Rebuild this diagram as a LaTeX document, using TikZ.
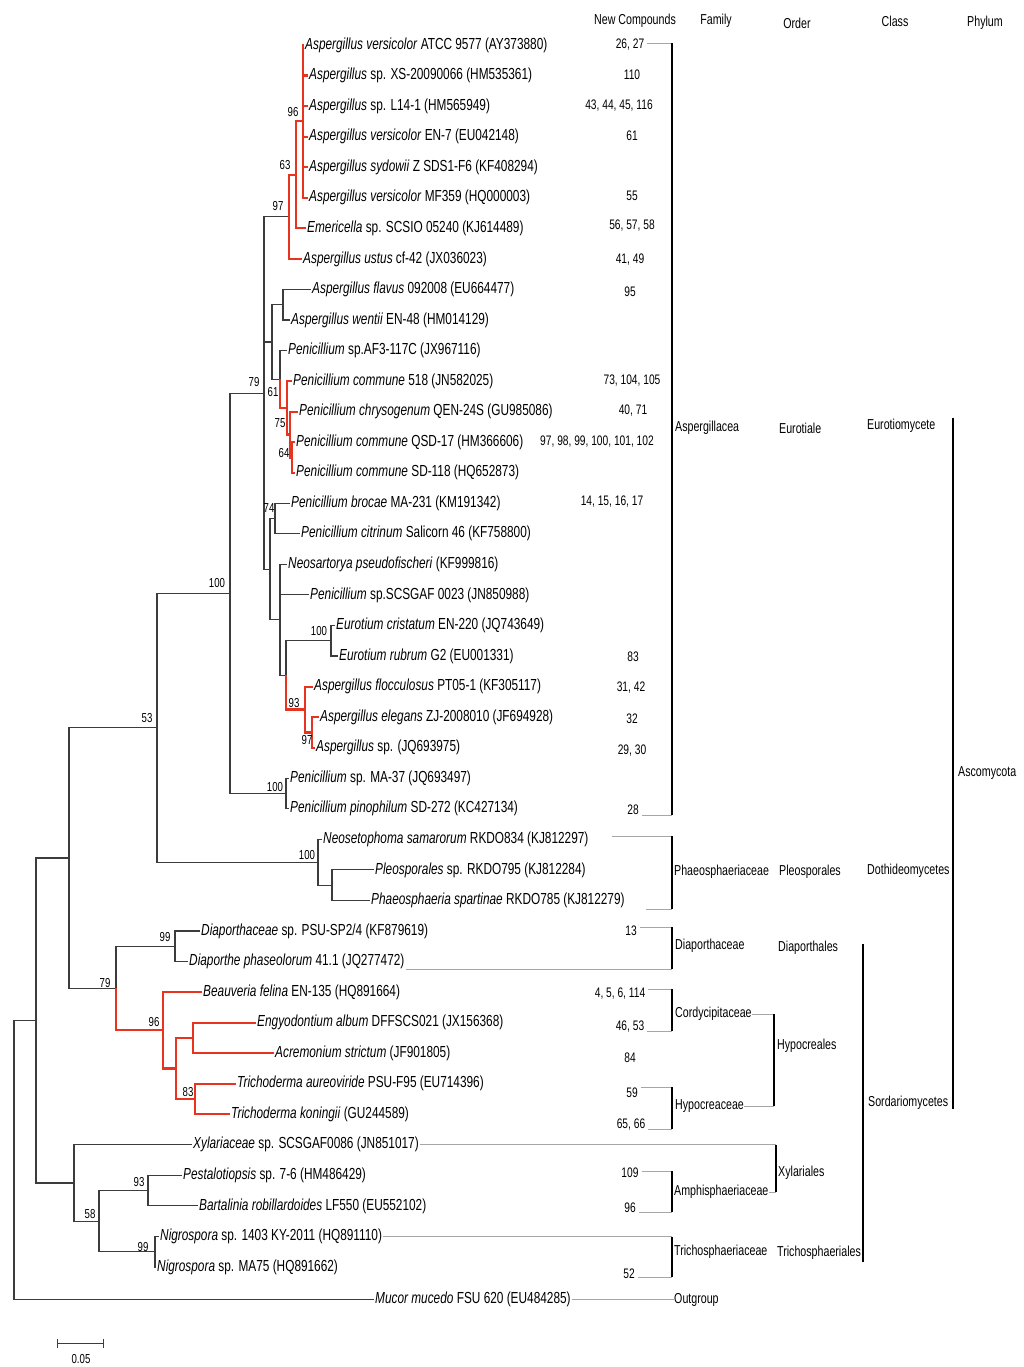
\documentclass[tikz,border=0pt]{standalone}
\usepackage{fontspec}
\setmainfont{Liberation Sans}[FakeStretch=0.74]
\usetikzlibrary{arrows.meta}
\definecolor{treered}{RGB}{232,52,30}
\definecolor{treegray}{RGB}{60,60,60}
\tikzset{%
  branch/.style    = {draw=treegray, line width=1.1pt},
  redbranch/.style = {draw=treered, line width=2.2pt},
  taxon/.style     = {anchor=west, inner sep=1pt, font=\fontsize{16}{18}\selectfont},
  bs/.style        = {inner sep=0pt, font=\fontsize{13}{15}\selectfont},
  cmpd/.style      = {inner sep=3pt, font=\fontsize{13.8}{16}\selectfont},
  ranklabel/.style = {anchor=west, inner sep=0pt, font=\fontsize{14.4}{16}\selectfont},
  colhead/.style   = {inner sep=0pt, font=\fontsize{14.4}{16}\selectfont},
  rankbar/.style   = {draw=black, line width=2.4pt},
  leader/.style    = {draw=gray!70, line width=0.9pt}
}

\begin{document}
\begin{tikzpicture}[x=1pt, y=-1pt]
\useasboundingbox[fill=white] (0,0) rectangle (1024,1367);

% column heads
\node[colhead] (hcmp) at (635,21) {New Compounds};
\node[colhead] (hfam) at (716,21) {Family};
\node[colhead] (hord) at (797,23) {Order};
\node[colhead] (hcls) at (895,21) {Class};
\node[colhead] (hphy) at (985,23) {Phylum};

% taxa
\node[taxon] (t1)  at (304,45.0)   {\textit{Aspergillus versicolor} ATCC 9577 (AY373880)};
\node[taxon] (t2)  at (308,75.6)   {\textit{Aspergillus} sp. XS-20090066 (HM535361)};
\node[taxon] (t3)  at (308,106.1)  {\textit{Aspergillus} sp. L14-1 (HM565949)};
\node[taxon] (t4)  at (308,136.7)  {\textit{Aspergillus versicolor} EN-7 (EU042148)};
\node[taxon] (t5)  at (308,167.2)  {\textit{Aspergillus sydowii} Z SDS1-F6 (KF408294)};
\node[taxon] (t6)  at (308,197.8)  {\textit{Aspergillus versicolor} MF359 (HQ000003)};
\node[taxon] (t7)  at (306,228.3)  {\textit{Emericella} sp. SCSIO 05240 (KJ614489)};
\node[taxon] (t8)  at (302,258.9)  {\textit{Aspergillus ustus} cf-42 (JX036023)};
\node[taxon] (t9)  at (311,289.4)  {\textit{Aspergillus flavus} 092008 (EU664477)};
\node[taxon] (t10) at (290,320.0)  {\textit{Aspergillus wentii} EN-48 (HM014129)};
\node[taxon] (t11) at (287,350.5)  {\textit{Penicillium} sp.AF3-117C (JX967116)};
\node[taxon] (t12) at (292,381.1)  {\textit{Penicillium commune} 518 (JN582025)};
\node[taxon] (t13) at (298,411.6)  {\textit{Penicillium chrysogenum} QEN-24S (GU985086)};
\node[taxon] (t14) at (295,442.2)  {\textit{Penicillium commune} QSD-17 (HM366606)};
\node[taxon] (t15) at (295,472.7)  {\textit{Penicillium commune} SD-118 (HQ652873)};
\node[taxon] (t16) at (290,503.3)  {\textit{Penicillium brocae} MA-231 (KM191342)};
\node[taxon] (t17) at (300,533.8)  {\textit{Penicillium citrinum} Salicorn 46 (KF758800)};
\node[taxon] (t18) at (287,564.4)  {\textit{Neosartorya pseudofischeri} (KF999816)};
\node[taxon] (t19) at (309,594.9)  {\textit{Penicillium} sp.SCSGAF 0023 (JN850988)};
\node[taxon] (t20) at (335,625.5)  {\textit{Eurotium cristatum} EN-220 (JQ743649)};
\node[taxon] (t21) at (338,656.0)  {\textit{Eurotium rubrum} G2 (EU001331)};
\node[taxon] (t22) at (313,686.6)  {\textit{Aspergillus flocculosus} PT05-1 (KF305117)};
\node[taxon] (t23) at (319,717.1)  {\textit{Aspergillus elegans} ZJ-2008010 (JF694928)};
\node[taxon] (t24) at (315,747.7)  {\textit{Aspergillus} sp. (JQ693975)};
\node[taxon] (t25) at (289,778.2)  {\textit{Penicillium} sp. MA-37 (JQ693497)};
\node[taxon] (t26) at (289,808.8)  {\textit{Penicillium pinophilum} SD-272 (KC427134)};
\node[taxon] (t27) at (322,839.3)  {\textit{Neosetophoma samarorum} RKDO834 (KJ812297)};
\node[taxon] (t28) at (374,869.9)  {\textit{Pleosporales} sp. RKDO795 (KJ812284)};
\node[taxon] (t29) at (370,900.4)  {\textit{Phaeosphaeria spartinae} RKDO785 (KJ812279)};
\node[taxon] (t30) at (200,931.0)  {\textit{Diaporthaceae} sp. PSU-SP2/4 (KF879619)};
\node[taxon] (t31) at (188,961.5)  {\textit{Diaporthe phaseolorum} 41.1 (JQ277472)};
\node[taxon] (t32) at (202,992.1)  {\textit{Beauveria felina} EN-135 (HQ891664)};
\node[taxon] (t33) at (256,1022.6) {\textit{Engyodontium album} DFFSCS021 (JX156368)};
\node[taxon] (t34) at (274,1053.2) {\textit{Acremonium strictum} (JF901805)};
\node[taxon] (t35) at (236,1083.7) {\textit{Trichoderma aureoviride} PSU-F95 (EU714396)};
\node[taxon] (t36) at (230,1114.3) {\textit{Trichoderma koningii} (GU244589)};
\node[taxon] (t37) at (192,1144.8) {\textit{Xylariaceae} sp. SCSGAF0086 (JN851017)};
\node[taxon] (t38) at (182,1175.4) {\textit{Pestalotiopsis} sp. 7-6 (HM486429)};
\node[taxon] (t39) at (198,1205.9) {\textit{Bartalinia robillardoides} LF550 (EU552102)};
\node[taxon] (t40) at (159,1236.5) {\textit{Nigrospora} sp. 1403 KY-2011 (HQ891110)};
\node[taxon] (t41) at (156,1267.0) {\textit{Nigrospora} sp. MA75 (HQ891662)};
\node[taxon] (t42) at (374,1299.5) {\textit{Mucor mucedo} FSU 620 (EU484285)};

% inner nodes
\coordinate (n96)  at (303,121.4);
\coordinate (n63)  at (296,174.9);
\coordinate (n97)  at (289,216.9);
\coordinate (nfw)  at (283,304.7);
\coordinate (n64)  at (292,457.5);
\coordinate (nchr) at (290,434.5);
\coordinate (n75)  at (287,407.8);
\coordinate (n61)  at (280,379.2);
\coordinate (nj)   at (272,342);
\coordinate (n74)  at (275,518.6);
\coordinate (neu)  at (331,640.8);
\coordinate (n97b) at (312,732.4);
\coordinate (n93)  at (305,709.5);
\coordinate (ni)   at (286,675.2);
\coordinate (nh)   at (280,619.8);
\coordinate (ng)   at (270,569.2);
\coordinate (n79)  at (264,393.1);
\coordinate (npen) at (286,793.5);
\coordinate (n100) at (230,593.3);
\coordinate (nple) at (332,885.2);
\coordinate (nph)  at (318,862.3);
\coordinate (n53)  at (157,727.8);
\coordinate (ndia) at (175,946.3);
\coordinate (neng) at (193,1037.9);
\coordinate (n83)  at (195,1099);
\coordinate (nhyp) at (176,1068.5);
\coordinate (n96s) at (163,1030.3);
\coordinate (n79s) at (116,988.3);
\coordinate (nb)   at (69,858);
\coordinate (npes) at (148,1190.7);
\coordinate (nnig) at (155,1251.8);
\coordinate (n58)  at (99,1221.2);
\coordinate (nc)   at (74,1183);
\coordinate (na)   at (36,1020.5);
\coordinate (root) at (14,1160);

% black branches
\draw[branch] (root) |- (na) (root) |- (t42.west);
\draw[branch] (na) |- (nb) (na) |- (nc);
\draw[branch] (nb) |- (n53) (nb) |- (n79s);
\draw[branch] (n53) |- (n100) (n53) |- (nph);
\draw[branch] (n100) |- (n79) (n100) |- (npen);
\draw[branch] (n79) |- (n97) (n79) |- (nj) (n79) |- (ng);
\draw[branch] (nj) |- (nfw) (nj) |- (n61);
\draw[branch] (nfw) |- (t9.west) (nfw) |- (t10.west);
\draw[branch] (n61) |- (t11.west);
\draw[branch] (ng) |- (n74) (ng) |- (nh);
\draw[branch] (n74) |- (t16.west) (n74) |- (t17.west);
\draw[branch] (nh) |- (t18.west) (nh) |- (t19.west) (nh) |- (ni);
\draw[branch] (ni) |- (neu);
\draw[branch] (neu) |- (t20.west) (neu) |- (t21.west);
\draw[branch] (npen) |- (t25.west) (npen) |- (t26.west);
\draw[branch] (nph) |- (t27.west) (nph) |- (nple);
\draw[branch] (nple) |- (t28.west) (nple) |- (t29.west);
\draw[branch] (n79s) |- (ndia);
\draw[branch] (ndia) |- (t30.west) (ndia) |- (t31.west);
\draw[branch] (nc) |- (t37.west) (nc) |- (n58);
\draw[branch] (n58) |- (npes) (n58) |- (nnig);
\draw[branch] (npes) |- (t38.west) (npes) |- (t39.west);
\draw[branch] (nnig) |- (t40.west) (nnig) |- (t41.west);

% red branches
\draw[redbranch] (n97) |- (n63) (n97) |- (t8.west);
\draw[redbranch] (n63) |- (n96) (n63) |- (t7.west);
\draw[redbranch] (n96) |- (t1.west) (n96) |- (t2.west) (n96) |- (t3.west)
                 (n96) |- (t4.west) (n96) |- (t5.west) (n96) |- (t6.west);
\draw[redbranch] (n61) |- (n75);
\draw[redbranch] (n75) |- (t12.west) (n75) |- (nchr);
\draw[redbranch] (nchr) |- (t13.west) (nchr) |- (n64);
\draw[redbranch] (n64) |- (t14.west) (n64) |- (t15.west);
\draw[redbranch] (ni) |- (n93);
\draw[redbranch] (n93) |- (t22.west) (n93) |- (n97b);
\draw[redbranch] (n97b) |- (t23.west) (n97b) |- (t24.west);
\draw[redbranch] (n79s) |- (n96s);
\draw[redbranch] (n96s) |- (t32.west) (n96s) |- (nhyp);
\draw[redbranch] (nhyp) |- (neng) (nhyp) |- (n83);
\draw[redbranch] (neng) |- (t33.west) (neng) |- (t34.west);
\draw[redbranch] (n83) |- (t35.west) (n83) |- (t36.west);

% bootstrap values
\node[bs] (b96)  at (293,112)  {96};
\node[bs] (b63)  at (285,165)  {63};
\node[bs] (b97)  at (278,206)  {97};
\node[bs] (b79)  at (254,382)  {79};
\node[bs] (b61)  at (273,392)  {61};
\node[bs] (b75)  at (280,423)  {75};
\node[bs] (b64)  at (284,453)  {64};
\node[bs] (b74)  at (269,508)  {74};
\node[bs] (b100) at (217,583)  {100};
\node[bs] (beu)  at (319,631)  {100};
\node[bs] (b93)  at (294,703)  {93};
\node[bs] (b97b) at (307,740)  {97};
\node[bs] (bpen) at (275,787)  {100};
\node[bs] (b53)  at (147,718)  {53};
\node[bs] (bph)  at (307,855)  {100};
\node[bs] (bdia) at (165,937)  {99};
\node[bs] (b79s) at (105,983)  {79};
\node[bs] (b96s) at (154,1022) {96};
\node[bs] (b83)  at (188,1092) {83};
\node[bs] (bpes) at (139,1182) {93};
\node[bs] (b58)  at (90,1214)  {58};
\node[bs] (bnig) at (143,1247) {99};

% new compounds
\node[cmpd] (c1)  at (630,45)   {26, 27};
\node[cmpd] (c2)  at (632,75)   {110};
\node[cmpd] (c3)  at (619,106)  {43, 44, 45, 116};
\node[cmpd] (c4)  at (632,136)  {61};
\node[cmpd] (c6)  at (632,196)  {55};
\node[cmpd] (c7)  at (632,226)  {56, 57, 58};
\node[cmpd] (c8)  at (630,260)  {41, 49};
\node[cmpd] (c9)  at (630,292)  {95};
\node[cmpd] (c12) at (632,381)  {73, 104, 105};
\node[cmpd] (c13) at (633,411)  {40, 71};
\node[cmpd] (c14) at (597,442)  {97, 98, 99, 100, 101, 102};
\node[cmpd] (c16) at (612,502)  {14, 15, 16, 17};
\node[cmpd] (c21) at (633,657)  {83};
\node[cmpd] (c22) at (631,688)  {31, 42};
\node[cmpd] (c23) at (632,719)  {32};
\node[cmpd] (c24) at (632,751)  {29, 30};
\node[cmpd] (c26) at (633,810)  {28};
\node[cmpd] (c30) at (631,931)  {13};
\node[cmpd] (c32) at (620,994)  {4, 5, 6, 114};
\node[cmpd] (c33) at (630,1027) {46, 53};
\node[cmpd] (c34) at (630,1058) {84};
\node[cmpd] (c35) at (632,1093) {59};
\node[cmpd] (c36) at (631,1125) {65, 66};
\node[cmpd] (c38) at (630,1173) {109};
\node[cmpd] (c39) at (630,1208) {96};
\node[cmpd] (c41) at (629,1274) {52};

% ranks
\node[ranklabel] (asp)  at (675,428)  {Aspergillacea};
\node[ranklabel] (eur)  at (779,428)  {Eurotiale};
\node[ranklabel] (eurc) at (867,426)  {Eurotiomycete};
\node[ranklabel] (pha)  at (674,872)  {Phaeosphaeriaceae};
\node[ranklabel] (ple)  at (779,872)  {Pleosporales};
\node[ranklabel] (dot)  at (867,871)  {Dothideomycetes};
\node[ranklabel] (dia)  at (675,946)  {Diaporthaceae};
\node[ranklabel] (diao) at (778,948)  {Diaporthales};
\node[ranklabel] (cor)  at (675,1014) {Cordycipitaceae};
\node[ranklabel] (hypo) at (777,1046) {Hypocreales};
\node[ranklabel] (hyc)  at (675,1106) {Hypocreaceae};
\node[ranklabel] (amph) at (674,1192) {Amphisphaeriaceae};
\node[ranklabel] (xyl)  at (778,1173) {Xylariales};
\node[ranklabel] (tri)  at (674,1252) {Trichosphaeriaceae};
\node[ranklabel] (trio) at (777,1253) {Trichosphaeriales};
\node[ranklabel] (sor)  at (868,1103) {Sordariomycetes};
\node[ranklabel] (asc)  at (958,773)  {Ascomycota};
\node[ranklabel] (out)  at (674,1300) {Outgroup};

% bracket ends
\coordinate (aspT)  at (672,43);   \coordinate (aspB)  at (672,815);
\coordinate (phaT)  at (672,836);  \coordinate (phaB)  at (672,909);
\coordinate (phaTl) at (612,836);  \coordinate (phaBl) at (646,909);
\coordinate (diaT)  at (672,927);  \coordinate (diaB)  at (672,969);
\coordinate (corT)  at (672,989);  \coordinate (corB)  at (672,1031);
\coordinate (hycT)  at (672,1087); \coordinate (hycB)  at (672,1129);
\coordinate (amT)   at (672,1171); \coordinate (amB)   at (672,1212);
\coordinate (trT)   at (672,1236); \coordinate (trB)   at (672,1277);
\coordinate (hyX)   at (774,0);    \coordinate (xyX)   at (776,0);
\coordinate (sorT)  at (863,944);  \coordinate (sorB)  at (863,1262);
\coordinate (phyT)  at (953,418);  \coordinate (phyB)  at (953,1109);

% leaders
\draw[leader] (aspT -| c1.east) -- (aspT);
\draw[leader] (aspB -| c26.east) -- (aspB);
\draw[leader] (phaTl) -- (phaT);
\draw[leader] (phaBl) -- (phaB);
\draw[leader] (diaT -| c30.east) -- (diaT);
\draw[leader] (diaB -| t31.east) -- (diaB);
\draw[leader] (corT -| c32.east) -- (corT);
\draw[leader] (corB -| c33.east) -- (corB);
\draw[leader] (hycT -| c35.east) -- (hycT);
\draw[leader] (hycB -| c36.east) -- (hycB);
\draw[leader] (amT -| c38.east) -- (amT);
\draw[leader] (amB -| c39.east) -- (amB);
\draw[leader] (t40.east) -- (t40.east -| trT);
\draw[leader] (trB -| c41.east) -- (trB);
\draw[leader] (cor.east) -- (cor.east -| hyX);
\draw[leader] (hyc.east) -- (hyc.east -| hyX);
\draw[leader] (t37.east) -- (t37.east -| xyX);
\draw[leader] (amph.east) -- (amph.east -| xyX);
\draw[leader] (t42.east) -- (t42.east -| out.west);

% bars
\draw[rankbar] (aspT) -- (aspB);
\draw[rankbar] (phaT) -- (phaB);
\draw[rankbar] (diaT) -- (diaB);
\draw[rankbar] (corT) -- (corB);
\draw[rankbar] (hycT) -- (hycB);
\draw[rankbar] (amT) -- (amB);
\draw[rankbar] (t40.east -| trT) -- (trB);
\draw[rankbar] (cor.east -| hyX) -- (hyc.east -| hyX);
\draw[rankbar] (t37.east -| xyX) -- (amph.east -| xyX);
\draw[rankbar] (sorT) -- (sorB);
\draw[rankbar] (phyT) -- (phyB);

% scale
\coordinate (sbL) at (57,1343);
\coordinate (sbR) at (104,1343);
\draw[branch, line width=1pt, {Bar[width=9pt]}-{Bar[width=9pt]}] (sbL) -- (sbR);
\node[bs] (sbl) at (81,1359) {0.05};
\end{tikzpicture}
\end{document}
